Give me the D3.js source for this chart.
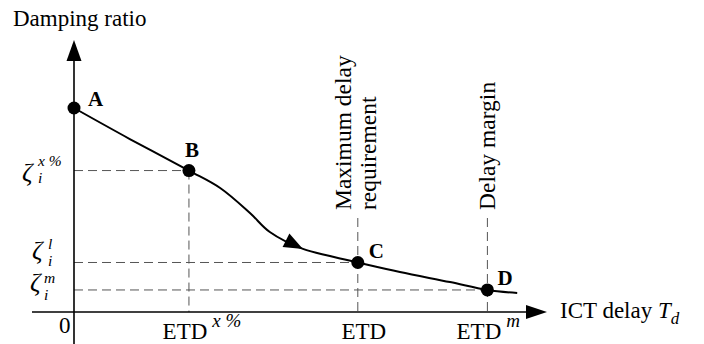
<!DOCTYPE html>
<html>
<head>
<meta charset="utf-8">
<script src="https://cdn.jsdelivr.net/npm/d3@7"></script>
<style>
  html, body { margin: 0; padding: 0; background: #fff; }
  svg { display: block; }
  text { font-family: "Liberation Serif", "DejaVu Serif", serif; fill: #000; }
</style>
</head>
<body>
<svg id="chart" width="704" height="344"></svg>
<script>
// Damping ratio versus ICT delay (schematic curve, normalised units 0..100)
const curveX = [0, 11.8, 24.3, 30.9, 37.2, 41.4, 48.4, 54.1, 60.0, 68.9, 79.5, 87.4, 93.7];
const curveY = [75.0, 63.6, 52.0, 45.6, 36.4, 29.4, 23.2, 20.6, 18.2, 14.7, 11.0, 8.1, 7.0];

// Marked operating points
const pointNames = ["A", "B", "C", "D"];
const pointX = [0, 24.3, 60.0, 87.4];
const pointY = [75.0, 52.0, 18.2, 8.1];

// Tick labels on the delay axis
const xTickValues = [24.3, 60.0, 87.4];
const xTickBase = ["ETD", "ETD", "ETD"];
const xTickSup = ["x %", "", "m"];

// Tick labels on the damping-ratio axis
const yTickValues = [52.0, 18.2, 8.1];
const yTickSup = ["x %", "l", "m"];

// Vertical annotations
const annotX = [60.0, 87.4];
const annotLines = [["Maximum delay", "requirement"], ["Delay margin"]];

const svg = d3.select("#chart");
const x = d3.scaleLinear().domain([0, 100]).range([74, 547]);
const y = d3.scaleLinear().domain([0, 100]).range([312, 40]);

// Dashed guide lines
const guides = svg.append("g").attr("stroke", "#555").attr("stroke-width", 1)
  .attr("stroke-dasharray", "9,5").attr("fill", "none");
// horizontal guides from the vertical axis to each point
yTickValues.forEach((v, i) => {
  guides.append("line").attr("x1", x(0)).attr("x2", x(pointX[i + 1])).attr("y1", y(v)).attr("y2", y(v));
});
// vertical guide under B
guides.append("line").attr("x1", x(pointX[1])).attr("x2", x(pointX[1])).attr("y1", y(pointY[1])).attr("y2", y(0));
// vertical guides at ETD and ETD^m
annotX.forEach(v => {
  guides.append("line").attr("x1", x(v)).attr("x2", x(v)).attr("y1", 218).attr("y2", y(0));
});

// Axes
const axes = svg.append("g").attr("stroke", "#000").attr("stroke-width", 1.6);
axes.append("line").attr("x1", 32).attr("x2", x(100) - 16).attr("y1", y(0)).attr("y2", y(0));
axes.append("line").attr("x1", x(0)).attr("x2", x(0)).attr("y1", 344).attr("y2", y(100) + 16);
// arrowheads
svg.append("path")
  .attr("d", `M${x(100)},${y(0)} L${x(100) - 21},${y(0) - 7} L${x(100) - 21},${y(0) + 7} Z`)
  .attr("fill", "#000");
svg.append("path")
  .attr("d", `M${x(0)},${y(100)} L${x(0) - 7.5},${y(100) + 21} L${x(0) + 7.5},${y(100) + 21} Z`)
  .attr("fill", "#000");

// Curve
const pts = curveX.map((v, i) => [x(v), y(curveY[i])]);
svg.append("path")
  .attr("d", d3.line().curve(d3.curveCatmullRom.alpha(0.5))(pts))
  .attr("fill", "none").attr("stroke", "#000").attr("stroke-width", 2);

// Direction arrow on the curve
const tipI = 6;
const tip = pts[tipI], prev = pts[tipI - 1];
const ang = Math.atan2(tip[1] - prev[1], tip[0] - prev[0]);
const L = 19, W = 7.5;
const bx = tip[0] - L * Math.cos(ang), by = tip[1] - L * Math.sin(ang);
const nx = -Math.sin(ang), ny = Math.cos(ang);
svg.append("path")
  .attr("d", `M${tip[0]},${tip[1]} L${bx + W * nx},${by + W * ny} L${bx - W * nx},${by - W * ny} Z`)
  .attr("fill", "#000");

// Points
svg.append("g").selectAll("circle").data(pointX).join("circle")
  .attr("cx", d => x(d)).attr("cy", (d, i) => y(pointY[i])).attr("r", 6.5).attr("fill", "#000");

// Point labels
const labelOff = [[14, -2], [-4, -14], [11, -4], [10, -5]];
svg.append("g").selectAll("text").data(pointNames).join("text")
  .attr("x", (d, i) => x(pointX[i]) + labelOff[i][0])
  .attr("y", (d, i) => y(pointY[i]) + labelOff[i][1])
  .attr("font-size", 21).attr("font-weight", "bold")
  .text(d => d);

// Axis titles
svg.append("text").attr("x", 13).attr("y", 26).attr("font-size", 23).text("Damping ratio");
const xt = svg.append("text").attr("x", 560).attr("y", 318).attr("font-size", 23);
xt.append("tspan").text("ICT delay ");
xt.append("tspan").attr("font-style", "italic").text("T");
xt.append("tspan").attr("font-style", "italic").attr("font-size", 17).attr("dy", 6).text("d");

// Origin
svg.append("text").attr("x", 59).attr("y", 333).attr("font-size", 23).text("0");

// X tick labels
const xShift = [-4, 6, -8.5];
const xtg = svg.append("g");
xTickValues.forEach((v, i) => {
  const t = xtg.append("text").attr("y", 339).attr("font-size", 23);
  t.append("tspan").text(xTickBase[i]);
  if (xTickSup[i]) t.append("tspan").attr("font-style", "italic").attr("font-size", 19)
    .attr("dx", 5).attr("dy", -12).text(xTickSup[i]);
  const baseW = t.select("tspan").node().getComputedTextLength();
  t.attr("x", x(v) - baseW / 2 + xShift[i]);
});

// Y tick labels: zeta with stacked superscript and subscript i
const ytg = svg.append("g");
const zetaX = [22, 32, 30];
const scriptX = [38, 48, 44];
const zetaDy = [10, -3.5, 1];
const supDy = [-5, -13.5, -7];
const subDy = [12.5, 3.5, 10];
yTickValues.forEach((v, i) => {
  const y0 = y(v);
  ytg.append("text").attr("x", zetaX[i]).attr("y", y0 + zetaDy[i]).attr("font-size", 26).attr("font-style", "italic").text("ζ");
  ytg.append("text").attr("x", scriptX[i]).attr("y", y0 + supDy[i]).attr("font-size", 15.5).attr("font-style", "italic").text(yTickSup[i]);
  ytg.append("text").attr("x", scriptX[i]).attr("y", y0 + subDy[i]).attr("font-size", 15.5).attr("font-style", "italic").text("i");
});

// Vertical annotations
const baseXs = [[351, 376], [495]];
annotX.forEach((v, i) => {
  annotLines[i].forEach((line, j) => {
    svg.append("text")
      .attr("transform", `translate(${baseXs[i][j]},210) rotate(-90)`)
      .attr("font-size", 23.5)
      .text(line);
  });
});
</script>
</body>
</html>
